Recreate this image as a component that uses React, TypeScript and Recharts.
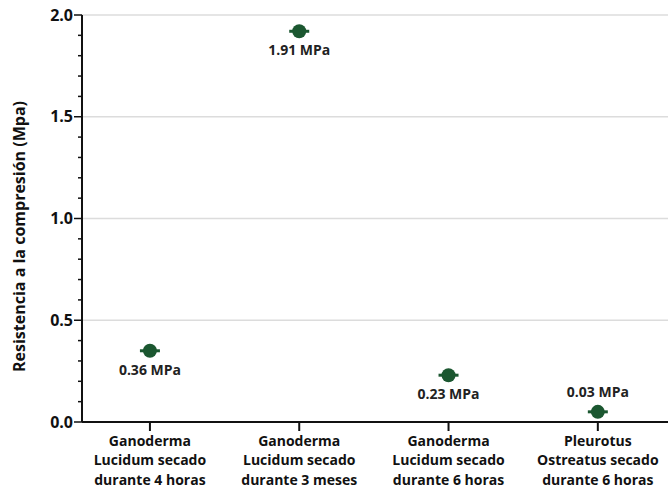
import { ScatterChart, Scatter, XAxis, YAxis, ReferenceLine, LabelList } from 'recharts';

const categories = [
  ['Ganoderma', 'Lucidum secado', 'durante 4 horas'],
  ['Ganoderma', 'Lucidum secado', 'durante 3 meses'],
  ['Ganoderma', 'Lucidum secado', 'durante 6 horas'],
  ['Pleurotus', 'Ostreatus secado', 'durante 6 horas'],
];
const values = [0.35, 1.92, 0.23, 0.05];
const valueLabels = ['0.36 MPa', '1.91 MPa', '0.23 MPa', '0.03 MPa'];
const labelAbove = [false, false, false, true];
const majorTicks = [0, 0.5, 1, 1.5, 2];
const allTicks = [0, 0.1, 0.2, 0.3, 0.4, 0.5, 0.6, 0.7, 0.8, 0.9, 1, 1.1, 1.2, 1.3, 1.4, 1.5, 1.6, 1.7, 1.8, 1.9, 2];

const data = values.map((v, i) => ({ x: i, y: v, label: valueLabels[i] }));

const FONT = '"Open Sans", sans-serif';
const GREEN = '#1b5730';

const isMajor = (v: number) => majorTicks.some((m) => Math.abs(m - v) < 1e-6);

const YTick = (props: any) => {
  const { x, y, payload } = props;
  const major = isMajor(payload.value);
  const x0 = x + 8;
  return (
    <g>
      <line x1={major ? x0 - 8 : x0 - 4} x2={x0} y1={y} y2={y} stroke="#111" strokeWidth={1.5} />
      {major && (
        <text x={x0 - 9} y={y} dy={5.5} textAnchor="end" fontFamily={FONT} fontSize={16} fontWeight={700} fill="#111">
          {payload.value.toFixed(1)}
        </text>
      )}
    </g>
  );
};

// recharts hands the tick a y that already sits 8px below the axis line
const XTick = (props: any) => {
  const { x, y, payload } = props;
  const lines = categories[payload.value] || [];
  return (
    <g>
      <line x1={x} x2={x} y1={y - 8} y2={y + 1} stroke="#111" strokeWidth={2} />
      <text x={x} y={y} textAnchor="middle" fontFamily={FONT} fontSize={14} fontWeight={700} fill="#111">
        {lines.map((l, i) => (
          <tspan key={i} x={x} dy={i === 0 ? 15.5 : 19.5}>
            {l}
          </tspan>
        ))}
      </text>
    </g>
  );
};

const Dot = (props: any) => {
  const { cx, cy } = props;
  return (
    <g>
      <line x1={cx - 10} x2={cx + 10} y1={cy} y2={cy} stroke={GREEN} strokeWidth={3} />
      <circle cx={cx} cy={cy} r={7} fill={GREEN} />
    </g>
  );
};

const ValueLabel = (props: any) => {
  const { x, y, width, height, index } = props;
  const cx = x + width / 2;
  const cy = y + height / 2;
  const above = labelAbove[index];
  return (
    <text
      x={cx}
      y={above ? cy - 15 : cy + 24}
      textAnchor="middle"
      fontFamily={FONT}
      fontSize={14}
      fontWeight={700}
      fill="#222"
    >
      {valueLabels[index]}
    </text>
  );
};

export default function App() {
  return (
    <div style={{ position: 'absolute', left: 0, top: 0, width: 668, height: 488, background: '#fff' }}>
      <ScatterChart width={668} height={488} margin={{ top: 15, right: 0, bottom: 0, left: 0 }}>
        {majorTicks.slice(1).map((v) => (
          <ReferenceLine key={v} y={v} stroke="#dcdcdc" strokeWidth={1.5} />
        ))}
        <XAxis
          type="number"
          dataKey="x"
          domain={[-0.455, 3.47]}
          ticks={[0, 1, 2, 3]}
          allowDataOverflow
          height={66}
          axisLine={{ stroke: '#111', strokeWidth: 2 }}
          tickLine={false}
          tick={<XTick />}
          interval={0}
        />
        <YAxis
          type="number"
          dataKey="y"
          domain={[0, 2]}
          ticks={allTicks}
          interval={0}
          width={82}
          axisLine={{ stroke: '#111', strokeWidth: 2 }}
          tickLine={false}
          tick={<YTick />}
          label={{
            value: 'Resistencia a la compresión (Mpa)',
            angle: -90,
            position: 'insideLeft',
            dx: 14,
            dy: 18,
            style: { fontFamily: FONT, fontSize: 16, fontWeight: 700, fill: '#111', textAnchor: 'middle' },
          }}
        />
        <Scatter data={data} shape={<Dot />} isAnimationActive={false}>
          <LabelList dataKey="label" content={<ValueLabel />} />
        </Scatter>
      </ScatterChart>
    </div>
  );
}
